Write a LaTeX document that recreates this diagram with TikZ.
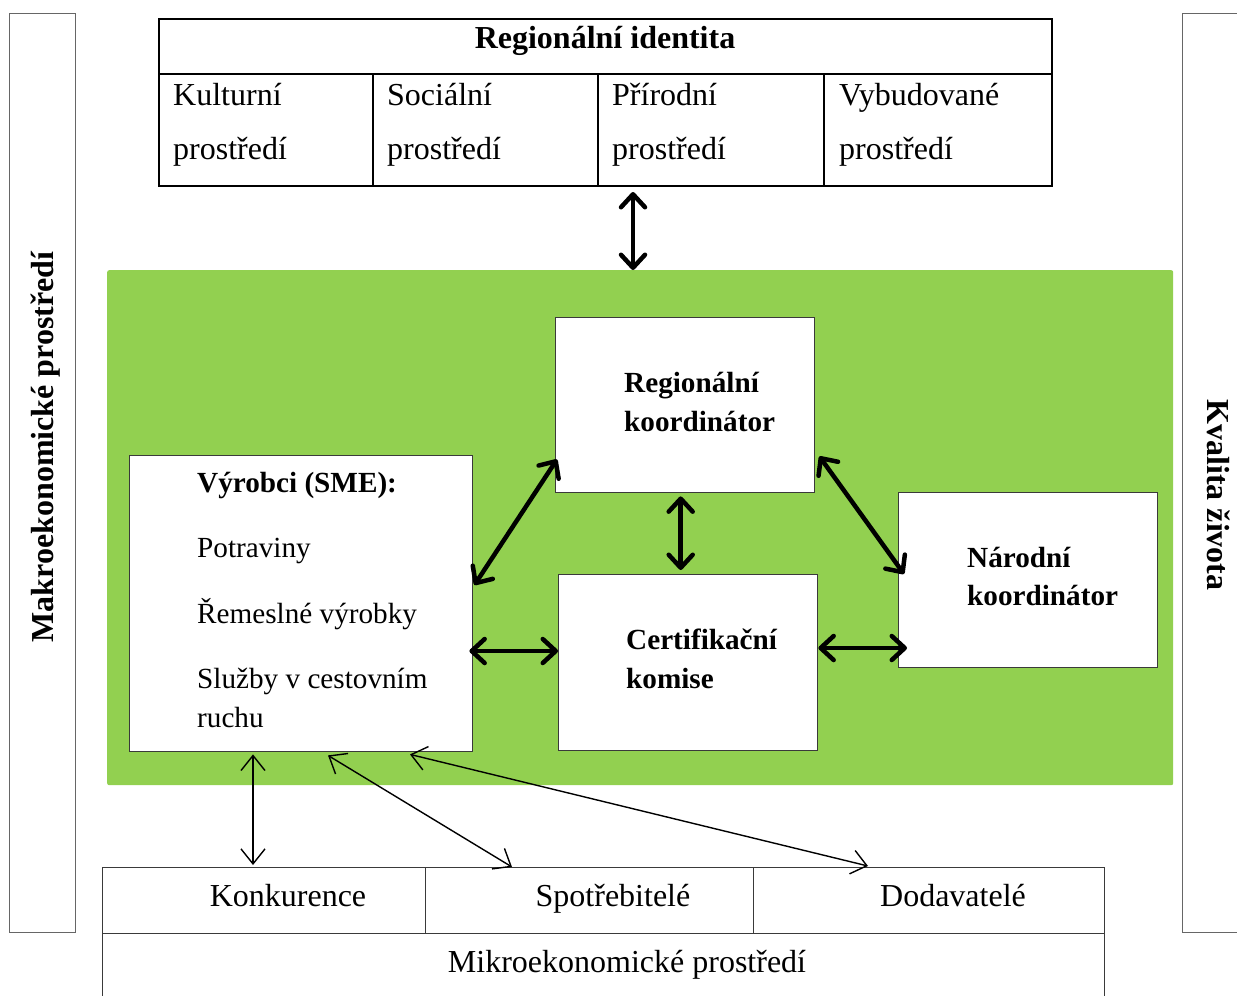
\documentclass[tikz,border=0pt]{standalone}
\usepackage{fontspec}
\setmainfont{Liberation Serif}
\usetikzlibrary{arrows.meta}
\definecolor{lgreen}{HTML}{92D050}
\definecolor{bordgrey}{HTML}{3A3A3A}
\tikzset{
  txt/.style={inner sep=0pt, font=\fontsize{32}{38}\selectfont},
  btxt/.style={inner sep=0pt, font=\fontsize{32}{38}\selectfont\bfseries},
  itxt/.style={inner sep=0pt, font=\fontsize{29.2}{35}\selectfont},
  ibtxt/.style={inner sep=0pt, font=\fontsize{29.2}{35}\selectfont\bfseries},
  cellbox/.style={draw=black, line width=2pt, inner sep=0pt, anchor=north west},
  whitebox/.style={draw=bordgrey, fill=white, line width=1.4pt, inner sep=0pt, anchor=north west},
  thinbox/.style={draw=bordgrey, line width=1.1pt, inner sep=0pt, anchor=north west},
  barbox/.style={draw=gray!80!black, line width=0.9pt, inner sep=0pt, anchor=north west},
  tarrow/.style={line width=4.5pt, arrows={Straight Barb[length=13pt,width=24pt,round]-Straight Barb[length=13pt,width=24pt,round]}},
  farrow/.style={line width=1.4pt, arrows={Straight Barb[length=15pt,width=24pt]-Straight Barb[length=15pt,width=24pt]}}
}
\begin{document}
\begin{tikzpicture}[x=1pt,y=-1pt]
\useasboundingbox (0,0) rectangle (1237,996);
% side bars
\node[barbox, minimum width=66pt, minimum height=919pt] (makro) at (9,13) {};
\node[barbox, minimum width=70pt, minimum height=919pt] (kval) at (1182,13) {};
\node[btxt, rotate=90, anchor=base] (makrot) at (53,447) {Makroekonomické prostředí};
\node[btxt, rotate=-90, anchor=base] (kvalt) at (1207,495) {Kvalita života};
% top table
\node[cellbox, minimum width=893pt, minimum height=55pt] (ri) at (158,18) {};
\node[cellbox, minimum width=214pt, minimum height=112pt] (c1) at (158,73) {};
\node[cellbox, minimum width=225pt, minimum height=112pt] (c2) at (372,73) {};
\node[cellbox, minimum width=226pt, minimum height=112pt] (c3) at (597,73) {};
\node[cellbox, minimum width=228pt, minimum height=112pt] (c4) at (823,73) {};
\node[btxt, anchor=base] (rit) at (605,48) {Regionální identita};
\node[txt, anchor=base west] (c1a) at (173,105) {Kulturní};
\node[txt, anchor=base west] (c1b) at (173,159) {prostředí};
\node[txt, anchor=base west] (c2a) at (387,105) {Sociální};
\node[txt, anchor=base west] (c2b) at (387,159) {prostředí};
\node[txt, anchor=base west] (c3a) at (612,105) {Přírodní};
\node[txt, anchor=base west] (c3b) at (612,159) {prostředí};
\node[txt, anchor=base west] (c4a) at (839,105) {Vybudované};
\node[txt, anchor=base west] (c4b) at (839,159) {prostředí};
% green area
\node[fill=lgreen, rounded corners=2pt, inner sep=0pt, anchor=north west, minimum width=1066pt, minimum height=515pt] (green) at (107,270) {};
% boxes
\node[whitebox, minimum width=259pt, minimum height=175pt] (reg) at (555,317) {};
\node[whitebox, minimum width=343pt, minimum height=296pt] (vyr) at (129,455) {};
\node[whitebox, minimum width=259pt, minimum height=176pt] (cert) at (558,574) {};
\node[whitebox, minimum width=259pt, minimum height=175pt] (nar) at (898,492) {};
\node[ibtxt, anchor=base west] (rega) at (624,392) {Regionální};
\node[ibtxt, anchor=base west] (regb) at (624,431) {koordinátor};
\node[ibtxt, anchor=base west] (vyra) at (197,492) {Výrobci (SME):};
\node[itxt, anchor=base west] (vyrb) at (197,557) {Potraviny};
\node[itxt, anchor=base west] (vyrc) at (197,623) {Řemeslné výrobky};
\node[itxt, anchor=base west] (vyrd) at (197,688) {Služby v cestovním};
\node[itxt, anchor=base west] (vyre) at (197,727) {ruchu};
\node[ibtxt, anchor=base west] (certa) at (626,649) {Certifikační};
\node[ibtxt, anchor=base west] (certb) at (626,688) {komise};
\node[ibtxt, anchor=base west] (nara) at (967,567) {Národní};
\node[ibtxt, anchor=base west] (narb) at (967,605) {koordinátor};
% bottom
\node[thinbox, minimum width=323pt, minimum height=66pt] (konk) at (102,867) {};
\node[thinbox, minimum width=328pt, minimum height=66pt] (spot) at (425,867) {};
\node[thinbox, minimum width=351pt, minimum height=66pt] (dod) at (753,867) {};
\node[thinbox, minimum width=1002pt, minimum height=75pt] (mikro) at (102,933) {};
\node[txt, anchor=base] (konkt) at (288,906) {Konkurence};
\node[txt, anchor=base] (spott) at (613,906) {Spotřebitelé};
\node[txt, anchor=base] (dodt) at (953,906) {Dodavatelé};
\node[txt, anchor=base] (mikrot) at (627,972) {Mikroekonomické prostředí};
% thick arrows
\draw[tarrow] ([xshift=36pt,yshift=-5pt]c3.south west) -- ([xshift=36pt]c3.south west |- green.north);
\draw[tarrow] ([xshift=1pt,yshift=-130pt]vyr.north east) -- ([xshift=2pt,yshift=34pt]reg.south west);
\draw[tarrow] ([xshift=4pt,yshift=37pt]reg.south east) -- ([xshift=6pt,yshift=-82pt]nar.north west);
\draw[tarrow] ([xshift=-4pt,yshift=-196pt]vyr.north east) -- ([yshift=-77pt]cert.north west);
\draw[tarrow] ([yshift=-74pt]cert.north east) -- ([xshift=9pt,yshift=-156pt]nar.north west);
\draw[tarrow] ([xshift=-4.5pt,yshift=-3pt]reg.south) -- ([xshift=-7.5pt,yshift=4pt]cert.north);
% thin arrows
\draw[farrow] ([xshift=124pt,yshift=-2pt]vyr.south west) -- ([xshift=151pt,yshift=2pt]konk.north west);
\draw[farrow] ([xshift=199pt,yshift=-3pt]vyr.south west) -- ([xshift=87pt]spot.north west);
\draw[farrow] ([xshift=281pt,yshift=-2pt]vyr.south west) -- ([xshift=115pt,yshift=1pt]dod.north west);
\end{tikzpicture}
\end{document}
